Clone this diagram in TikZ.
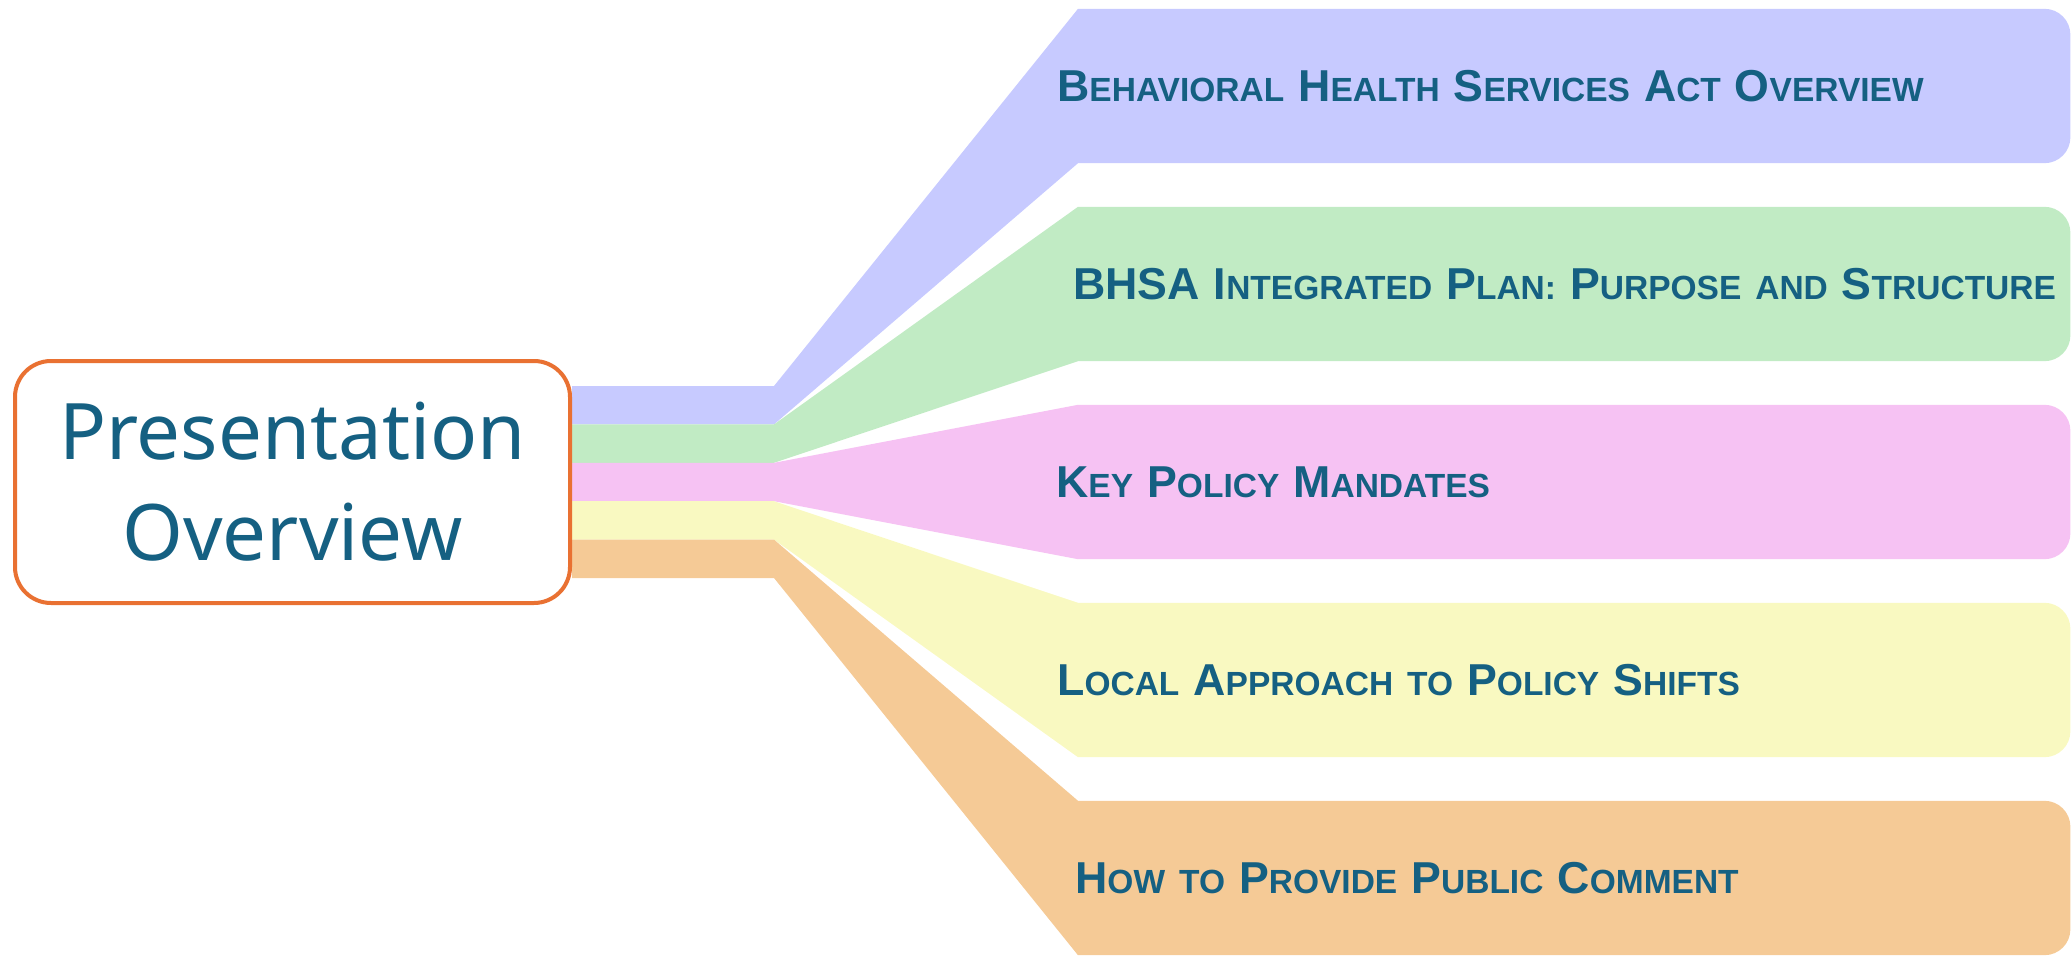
\documentclass[tikz,border=0pt]{standalone}
\usepackage{fontspec}
\newfontfamily\titlefont{Noto Sans}
\newfontfamily\topicfont{Liberation Sans}
\usetikzlibrary{backgrounds}

\definecolor{ink}{HTML}{156082}
\definecolor{hubline}{HTML}{E97132}
\definecolor{actfill}{HTML}{C7CAFF}
\definecolor{planfill}{HTML}{C1EBC4}
\definecolor{mandfill}{HTML}{F6C2F3}
\definecolor{localfill}{HTML}{F9F9C1}
\definecolor{commentfill}{HTML}{F5CA96}

% capital letter big, the rest as small capitals
\newcommand{\capword}[2]{{\fontsize{44.7}{50}\selectfont #1}{\fontsize{33.5}{40}\selectfont #2}}

\tikzset{
	hub/.style={draw=hubline, line width=4pt, fill=white, rounded corners=36pt,
		minimum width=555pt, minimum height=242pt, align=center, text=ink,
		font=\titlefont\fontsize{78}{101}\selectfont},
	topic/.style={minimum width=992pt, minimum height=154pt, inner sep=0pt, anchor=west},
	topictext/.style={anchor=west, inner sep=0pt, text=ink,
		font=\topicfont\bfseries\fontsize{33.5}{40}\selectfont,
		execute at begin node={\spaceskip=14pt\relax}},
}

\begin{document}
\begin{tikzpicture}[x=1pt,y=-1pt]
			\useasboundingbox (0,0) rectangle (2071,957);
			
			\node[hub] (overview) at (292.5,482) {Presentation\\Overview};
			
			\node[topic] (act) at (1078,86) {};
			\node[topic] (plan) at (1078,284) {};
			\node[topic] (mand) at (1078,482) {};
			\node[topic] (local) at (1078,680) {};
			\node[topic] (comment) at (1078,878) {};
			
			% bends of the stripes
			\coordinate (k0) at (774,386); \coordinate (k1) at (774,424.4);
			\coordinate (k2) at (774,462.8); \coordinate (k3) at (774,501.2);
			\coordinate (k4) at (774,539.6); \coordinate (k5) at (774,578);
			
			\begin{scope}[on background layer]
			\fill[actfill] (overview.east |- k0) -- (k0) -- (act.north west) -- ([xshift=-26pt]act.north east) arc[start angle=90, end angle=0, radius=26pt] -- ([yshift=26pt]act.south east) arc[start angle=0, end angle=-90, radius=26pt] -- (act.south west) -- (k1) -- (overview.east |- k1) -- cycle;
			\fill[planfill] (overview.east |- k1) -- (k1) -- (plan.north west) -- ([xshift=-26pt]plan.north east) arc[start angle=90, end angle=0, radius=26pt] -- ([yshift=26pt]plan.south east) arc[start angle=0, end angle=-90, radius=26pt] -- (plan.south west) -- (k2) -- (overview.east |- k2) -- cycle;
			\fill[mandfill] (overview.east |- k2) -- (k2) -- (mand.north west) -- ([xshift=-26pt]mand.north east) arc[start angle=90, end angle=0, radius=26pt] -- ([yshift=26pt]mand.south east) arc[start angle=0, end angle=-90, radius=26pt] -- (mand.south west) -- (k3) -- (overview.east |- k3) -- cycle;
			\fill[localfill] (overview.east |- k3) -- (k3) -- (local.north west) -- ([xshift=-26pt]local.north east) arc[start angle=90, end angle=0, radius=26pt] -- ([yshift=26pt]local.south east) arc[start angle=0, end angle=-90, radius=26pt] -- (local.south west) -- (k4) -- (overview.east |- k4) -- cycle;
			\fill[commentfill] (overview.east |- k4) -- (k4) -- (comment.north west) -- ([xshift=-26pt]comment.north east) arc[start angle=90, end angle=0, radius=26pt] -- ([yshift=26pt]comment.south east) arc[start angle=0, end angle=-90, radius=26pt] -- (comment.south west) -- (k5) -- (overview.east |- k5) -- cycle;
			\end{scope}
			
			\node[topictext] (acttext) at (1057,86) {\capword{B}{EHAVIORAL} \capword{H}{EALTH} \capword{S}{ERVICES} \capword{A}{CT} \capword{O}{VERVIEW}};
			\node[topictext] (plantext) at (1073,284) {\capword{BHSA}{} \capword{I}{NTEGRATED} \capword{P}{LAN:} \capword{P}{URPOSE} \capword{}{AND} \capword{S}{TRUCTURE}};
			\node[topictext] (mandtext) at (1056,482) {\capword{K}{EY} \capword{P}{OLICY} \capword{M}{ANDATES}};
			\node[topictext] (localtext) at (1057,680) {\capword{L}{OCAL} \capword{A}{PPROACH} \capword{}{TO} \capword{P}{OLICY} \capword{S}{HIFTS}};
			\node[topictext] (commenttext) at (1075,878) {\capword{H}{OW} \capword{}{TO} \capword{P}{ROVIDE} \capword{P}{UBLIC} \capword{C}{OMMENT}};
\end{tikzpicture}
\end{document}
